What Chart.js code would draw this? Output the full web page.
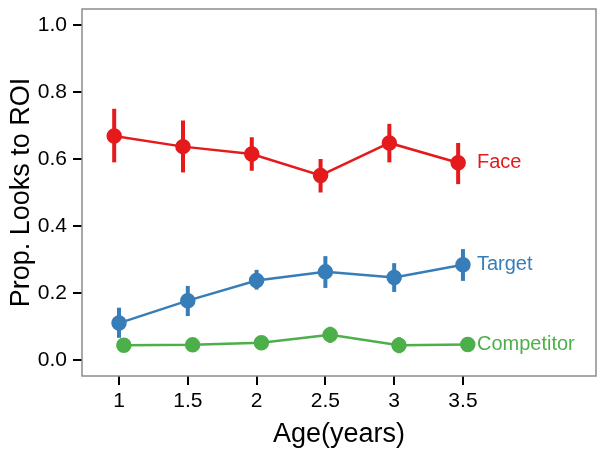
<!DOCTYPE html>
<html>
<head>
<meta charset="utf-8">
<script src="https://cdn.jsdelivr.net/npm/chart.js@4.4.0/dist/chart.umd.min.js"></script>
<style>
  html, body { margin: 0; padding: 0; background: #fff; }
  #wrap { width: 606px; height: 451px; }
</style>
</head>
<body>
<div id="wrap"><canvas id="chart" width="606" height="451"></canvas></div>
<script>
// ages on the x axis
const ages = [1, 1.5, 2, 2.5, 3, 3.5];
const xTicks = [1, 1.5, 2, 2.5, 3, 3.5];
const yTicks = [0, 0.2, 0.4, 0.6, 0.8, 1.0];

const seriesNames = ['Face', 'Target', 'Competitor'];
const seriesColors = ['#E41A1C', '#377EB8', '#4DAF4A'];

// proportion of looks + error bar limits
const faceMean = [0.669, 0.637, 0.615, 0.551, 0.648, 0.589];
const faceLow  = [0.590, 0.560, 0.565, 0.500, 0.590, 0.525];
const faceHigh = [0.750, 0.715, 0.665, 0.600, 0.705, 0.648];

const targetMean = [0.110, 0.177, 0.237, 0.263, 0.246, 0.284];
const targetLow  = [0.066, 0.131, 0.210, 0.215, 0.203, 0.236];
const targetHigh = [0.156, 0.221, 0.269, 0.310, 0.289, 0.331];

const compMean = [0.044, 0.045, 0.051, 0.075, 0.044, 0.046];
const compLow  = [0.036, 0.037, 0.043, 0.051, 0.020, 0.040];
const compHigh = [0.052, 0.053, 0.059, 0.099, 0.068, 0.052];

const means = [faceMean, targetMean, compMean];
const lows = [faceLow, targetLow, compLow];
const highs = [faceHigh, targetHigh, compHigh];
const dodge = [-0.035, 0, 0.035];

const datasets = seriesNames.map((name, s) => ({
    label: name,
    data: ages.map((a, i) => ({ x: a + dodge[s], y: means[s][i], lo: lows[s][i], hi: highs[s][i] })),
    borderColor: seriesColors[s],
    backgroundColor: seriesColors[s],
    borderWidth: 2.5,
    pointRadius: 6.5,
    pointHoverRadius: 6.5,
    showLine: true,
    tension: 0
}));

const errorBars = {
    id: 'errorBars',
    beforeDatasetsDraw(chart) {
        const ctx = chart.ctx;
        const xs = chart.scales.x, ys = chart.scales.y;
        ctx.save();
        chart.data.datasets.forEach(ds => {
            ctx.strokeStyle = ds.borderColor;
            ctx.lineWidth = 4;
            ds.data.forEach(p => {
                const px = xs.getPixelForValue(p.x);
                ctx.beginPath();
                ctx.moveTo(px, ys.getPixelForValue(p.lo));
                ctx.lineTo(px, ys.getPixelForValue(p.hi));
                ctx.stroke();
            });
        });
        ctx.restore();
    }
};

const endLabels = {
    id: 'endLabels',
    afterDatasetsDraw(chart) {
        const ctx = chart.ctx;
        const xs = chart.scales.x, ys = chart.scales.y;
        ctx.save();
        ctx.font = '20px "Liberation Sans", Arial, sans-serif';
        ctx.textBaseline = 'middle';
        ctx.textAlign = 'left';
        chart.data.datasets.forEach(ds => {
            const last = ds.data[ds.data.length - 1];
            ctx.fillStyle = ds.borderColor;
            ctx.fillText(ds.label, xs.getPixelForValue(ages[ages.length - 1]) + 14, ys.getPixelForValue(last.y));
        });
        ctx.restore();
    }
};

const panelBox = {
    id: 'panelBox',
    afterDraw(chart) {
        const a = chart.chartArea;
        const ctx = chart.ctx;
        ctx.save();
        ctx.strokeStyle = '#8c8c8c';
        ctx.lineWidth = 1.5;
        ctx.strokeRect(a.left, a.top, a.right - a.left, a.bottom - a.top);
        ctx.restore();
    }
};

const font = '"Liberation Sans", Arial, Helvetica, sans-serif';

new Chart(document.getElementById('chart'), {
    type: 'scatter',
    data: { datasets },
    plugins: [errorBars, endLabels, panelBox],
    options: {
        responsive: false,
        animation: false,
        events: [],
        layout: { padding: { top: 9, right: 10, left: 0, bottom: 0 } },
        plugins: { legend: { display: false }, tooltip: { enabled: false } },
        scales: {
            x: {
                type: 'linear',
                min: 0.731,
                max: 4.467,
                afterBuildTicks: s => { s.ticks = xTicks.map(v => ({ value: v })); },
                afterFit: s => { s.height = 75; s.paddingLeft = 0; s.paddingRight = 0; },
                ticks: {
                    color: '#000',
                    font: { family: font, size: 21 },
                    padding: 4,
                    callback: v => String(v)
                },
                grid: { drawOnChartArea: false, drawTicks: true, tickLength: 9, color: '#000', lineWidth: 2 },
                border: { display: false },
                title: {
                    display: true,
                    text: 'Age(years)',
                    color: '#000',
                    font: { family: font, size: 27 },
                    padding: { top: 0, bottom: 0 }
                }
            },
            y: {
                min: -0.048,
                max: 1.048,
                afterBuildTicks: s => { s.ticks = yTicks.map(v => ({ value: v })); },
                afterFit: s => { s.width = 82; s.paddingTop = 0; s.paddingBottom = 0; },
                ticks: {
                    color: '#000',
                    font: { family: font, size: 21 },
                    padding: 6,
                    callback: v => v.toFixed(1)
                },
                grid: { drawOnChartArea: false, drawTicks: true, tickLength: 9, color: '#000', lineWidth: 2 },
                border: { display: false },
                title: {
                    display: true,
                    text: 'Prop. Looks to ROI',
                    color: '#000',
                    font: { family: font, size: 27 },
                    padding: { top: 5, bottom: 0 }
                }
            }
        }
    }
});
</script>
</body>
</html>
